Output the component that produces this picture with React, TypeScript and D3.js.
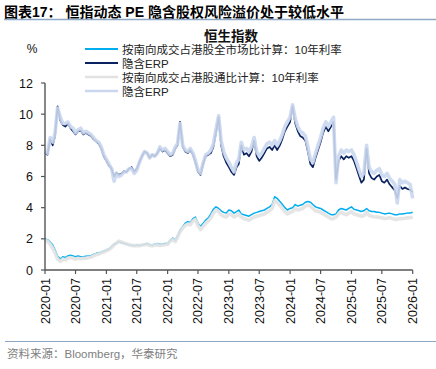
import React from "react";
import * as d3 from "d3";

// semi-monthly readings, 2020-01-01 .. 2026-01-01 (1st and 16th of each month)
const rateAll = [
  2.0, 1.95, 1.8, 1.6, 1.3, 0.9, 0.7, 0.85, 0.8, 0.9,
  0.95, 0.9, 0.85, 0.9, 0.85, 0.85, 0.88, 0.9, 0.92, 1.0,
  1.07, 1.1, 1.15, 1.2, 1.28, 1.35, 1.5, 1.65, 1.7, 1.8,
  1.75, 1.7, 1.65, 1.6, 1.6, 1.55, 1.6, 1.58, 1.6, 1.65,
  1.7, 1.62, 1.6, 1.65, 1.7, 1.65, 1.65, 1.7, 1.7, 1.9,
  2.05, 1.9, 2.2, 2.55, 2.8, 3.0, 3.1, 3.05, 3.3, 3.4,
  3.0, 2.8, 3.0, 3.2, 3.35, 3.6, 3.9, 4.05, 3.95, 3.8,
  3.7, 3.65, 3.85, 3.8, 3.65, 3.75, 3.85, 3.6, 3.55, 3.5,
  3.45, 3.55, 3.65, 3.7, 3.75, 3.8, 3.85, 3.95, 4.05, 4.2,
  4.7, 4.6, 4.4, 4.2, 4.0, 3.85, 3.95, 4.0, 4.2, 4.1,
  4.15, 4.2, 4.35, 4.4, 4.35, 4.2, 4.05, 4.0, 3.95, 3.85,
  3.75, 3.65, 3.55, 3.55, 3.6, 3.85, 3.95, 3.9, 3.85, 3.95,
  4.05, 3.9, 3.85, 3.8, 3.75, 3.8, 3.95, 3.8, 3.75, 3.75,
  3.7, 3.7, 3.65, 3.6, 3.62, 3.65, 3.6, 3.55, 3.55, 3.6,
  3.6, 3.62, 3.65, 3.65, 3.7,
];
const erpAll = [
  7.5, 7.4, 8.4, 8.0, 8.6, 10.5, 9.6, 9.3, 9.2, 9.4,
  9.1, 8.9, 8.7, 8.9, 8.95, 8.7, 8.8, 8.7, 8.6, 8.4,
  8.25, 8.1, 7.8, 7.3, 7.0, 6.7, 6.5, 6.0, 6.25, 6.1,
  6.2, 6.35, 6.3, 6.5, 6.6, 6.3, 6.5, 6.9, 7.3, 7.6,
  7.5, 7.2, 7.4, 7.3, 7.5, 7.8, 7.6, 7.7, 7.5, 7.3,
  7.4, 7.8, 8.0, 9.5, 7.9, 7.6, 7.5, 7.7, 7.4, 6.9,
  6.3, 6.1, 6.8, 7.3, 7.4, 7.5, 7.9, 8.8, 9.8, 8.0,
  7.3, 6.9, 6.6, 6.3, 6.1, 6.6, 6.8, 8.0, 7.4, 7.5,
  7.3, 7.6, 8.3, 7.3, 7.0, 7.2, 7.5, 7.8, 7.9, 7.7,
  8.0, 7.7, 8.0, 8.4, 8.9, 9.2, 9.5, 10.5, 9.4, 8.9,
  8.6, 8.5, 8.3, 7.6, 6.8, 6.6, 7.2, 7.7, 8.2, 8.8,
  9.2, 8.9, 9.2, 9.5, 5.8, 7.0, 7.3, 7.1, 7.3, 7.2,
  7.3, 7.0, 6.5, 6.0, 5.6, 5.8, 7.8, 6.2, 5.9, 5.8,
  6.0, 6.1, 5.7, 5.6, 5.8, 5.5, 5.3, 5.1, 4.6, 5.4,
  5.2, 5.3, 5.2, 5.15, 5.0,
];
const rateConnect = [
  1.95, 1.85, 1.65, 1.4, 1.1, 0.7, 0.55, 0.7, 0.65, 0.75,
  0.8, 0.75, 0.7, 0.75, 0.72, 0.75, 0.75, 0.8, 0.82, 0.9,
  0.98, 1.02, 1.1, 1.15, 1.25, 1.3, 1.45, 1.62, 1.72, 1.85,
  1.8, 1.72, 1.68, 1.62, 1.58, 1.55, 1.58, 1.55, 1.6, 1.62,
  1.65, 1.58, 1.55, 1.6, 1.62, 1.58, 1.6, 1.62, 1.65, 1.85,
  1.95, 1.82, 2.1, 2.45, 2.7, 2.85, 2.95, 2.9, 3.15, 3.25,
  2.85, 2.6, 2.8, 3.0, 3.15, 3.35, 3.65, 3.85, 3.75, 3.55,
  3.45, 3.4, 3.6, 3.55, 3.4, 3.5, 3.6, 3.4, 3.3, 3.25,
  3.2, 3.3, 3.4, 3.45, 3.5, 3.55, 3.6, 3.7, 3.8, 3.95,
  4.45, 4.35, 4.15, 3.95, 3.75, 3.6, 3.7, 3.75, 3.95, 3.85,
  3.9, 3.95, 4.1, 4.15, 4.1, 3.95, 3.8, 3.75, 3.7, 3.6,
  3.5, 3.4, 3.3, 3.3, 3.4, 3.6, 3.7, 3.6, 3.55, 3.65,
  3.75, 3.6, 3.55, 3.5, 3.45, 3.5, 3.7, 3.5, 3.45, 3.42,
  3.4, 3.38, 3.35, 3.3, 3.32, 3.35, 3.3, 3.25, 3.25, 3.3,
  3.3, 3.32, 3.35, 3.35, 3.4,
];
const erpConnect = [
  7.6, 7.5, 8.5, 8.2, 8.8, 10.4, 9.8, 9.4, 9.4, 9.5,
  9.2, 9.1, 8.8, 9.0, 9.1, 8.8, 8.9, 8.8, 8.7, 8.5,
  8.3, 8.2, 7.9, 7.4, 7.1, 6.8, 6.5, 5.7, 6.2, 6.0,
  6.1, 6.3, 6.3, 6.5, 6.5, 6.2, 6.4, 6.9, 7.3, 7.6,
  7.5, 7.2, 7.4, 7.3, 7.5, 7.9, 7.7, 7.8, 7.6, 7.4,
  7.5, 7.9, 8.1, 9.4, 8.0, 7.7, 7.6, 7.8, 7.5, 7.0,
  6.4, 6.2, 6.9, 7.4, 7.5, 7.7, 8.1, 9.0, 9.9, 8.3,
  7.6, 7.2, 6.9, 6.6, 6.3, 6.9, 7.1, 8.2, 7.7, 7.8,
  7.6, 7.9, 8.5, 7.6, 7.3, 7.5, 7.8, 8.1, 8.2, 8.0,
  8.3, 8.0, 8.3, 8.7, 9.2, 9.5, 9.8, 10.6, 9.7, 9.2,
  8.9, 8.8, 8.6, 7.9, 7.1, 6.9, 7.5, 8.0, 8.5, 9.1,
  9.5, 9.2, 9.5, 9.8, 5.6, 7.3, 7.7, 7.5, 7.7, 7.6,
  7.7, 7.4, 6.9, 6.4, 6.0, 6.2, 8.0, 6.6, 6.3, 6.2,
  6.4, 6.5, 6.1, 6.0, 6.2, 5.9, 5.7, 5.5, 4.3, 5.8,
  5.6, 5.7, 5.6, 5.5, 4.6,
];

const yTicks = [0, 2, 4, 6, 8, 10, 12];
const xTickLabels = [
  "2020-01", "2020-07", "2021-01", "2021-07", "2022-01", "2022-07", "2023-01",
  "2023-07", "2024-01", "2024-07", "2025-01", "2025-07", "2026-01",
];
const seriesNames = [
  "按南向成交占港股全市场比计算：10年利率",
  "隐含ERP",
  "按南向成交占港股通比计算：10年利率",
  "隐含ERP",
];
const seriesColors = ["#00ADEE", "#0B2260", "#E2E2E2", "#CAD7EE"];
const seriesWidths = [1.5, 1.7, 3.6, 3.6];

const W = 436;
const H = 369;
const plot = { left: 45, right: 412.7, top: 83, bottom: 270 };
const latin = "'Liberation Sans', Arial, sans-serif";
const cjk = "'Liberation Sans', 'Noto Sans CJK SC', sans-serif";

const dateAt = (i: number) => new Date(2020, Math.floor(i / 2), i % 2 ? 16 : 1);
const parseTick = d3.timeParse("%Y-%m");

export default function App() {
  const x = d3.scaleTime()
    .domain([new Date(2020, 0, 1), new Date(2026, 0, 1)])
    .range([plot.left, plot.right]);
  const y = d3.scaleLinear().domain([0, 12]).range([plot.bottom, plot.top]);

  const line = d3.line<number>()
    .x((_, i) => x(dateAt(i)))
    .y((d) => y(d));

  const series = [rateAll, erpAll, rateConnect, erpConnect];

  return (
    <svg width={W} height={H} style={{ position: "absolute", left: 0, top: 0, background: "#fff" }}>
      {/* header */}
      <text x={4} y={17} fontFamily={cjk} fontSize={14} fontWeight="bold" fill="#000">
        图表17：  恒指动态 PE 隐含股权风险溢价处于较低水平
      </text>
      <line x1={4} x2={W} y1={19.5} y2={19.5} stroke="#8FA9C4" strokeWidth={1.3} />

      <text x={231} y={41} textAnchor="middle" fontFamily={cjk} fontSize={13.5} fontWeight={600} fill="#111">
        恒生指数
      </text>
      <text x={32} y={53} textAnchor="middle" fontFamily={latin} fontSize={12} fill="#111">%</text>

      {/* legend */}
      {seriesNames.map((name, i) => {
        const cy = 49 + i * 14;
        return (
          <g key={i}>
            <line x1={85} x2={118} y1={cy} y2={cy} stroke={seriesColors[i]} strokeWidth={i < 2 ? 2 : 2.4} />
            <text x={122} y={cy + 4.5} fontFamily={cjk} fontSize={11.5} fill="#222">{name}</text>
          </g>
        );
      })}

      {/* series */}
      {series.map((s, i) => (
        <path key={i} d={line(s) || ""} fill="none" stroke={seriesColors[i]}
          strokeWidth={seriesWidths[i]} strokeLinejoin="round" opacity={i >= 2 ? 0.9 : 1} />
      ))}

      {/* y axis */}
      <line x1={plot.left} x2={plot.left} y1={plot.top} y2={plot.bottom} stroke="#555" strokeWidth={1.4} />
      {yTicks.map((t) => (
        <g key={t}>
          <line x1={plot.left - 4} x2={plot.left} y1={y(t)} y2={y(t)} stroke="#555" strokeWidth={1.2} />
          <text x={33} y={y(t) + 4.5} textAnchor="end" fontFamily={latin} fontSize={12.5} fill="#111">{t}</text>
        </g>
      ))}

      {/* x axis */}
      <line x1={plot.left} x2={plot.right} y1={plot.bottom} y2={plot.bottom} stroke="#555" strokeWidth={1.4} />
      {xTickLabels.map((lab) => {
        const tx = x(parseTick(lab) as Date);
        return (
          <g key={lab}>
            <line x1={tx} x2={tx} y1={plot.bottom} y2={plot.bottom + 4} stroke="#555" strokeWidth={1.2} />
            <text transform={`translate(${tx + 4.5},${plot.bottom + 8}) rotate(-90)`} textAnchor="end"
              fontFamily={latin} fontSize={12.5} fill="#111">{lab}</text>
          </g>
        );
      })}

      {/* footer */}
      <line x1={5} x2={W} y1={341.5} y2={341.5} stroke="#8FA9C4" strokeWidth={1.2} />
      <text x={7} y={358} fontFamily={cjk} fontSize={11.5} fill="#808080">资料来源：Bloomberg，华泰研究</text>
    </svg>
  );
}
